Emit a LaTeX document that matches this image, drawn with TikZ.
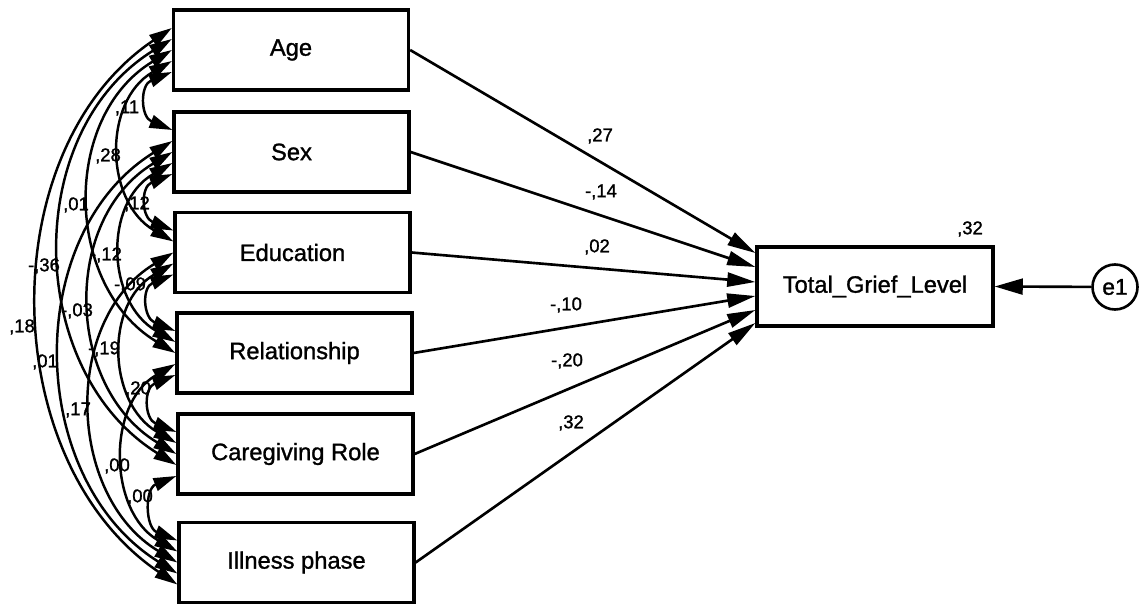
\documentclass[tikz,border=0pt]{standalone}
\usepackage{fontspec}
\setmainfont{Liberation Sans}[FakeBold=1.2]
\usetikzlibrary{arrows.meta,calc}
\begin{document}
\begin{tikzpicture}[x=0.02cm, y=-0.02cm,
  var/.style={draw, line width=1.9pt, minimum width=4.7cm, minimum height=1.6cm,
    inner sep=0pt, font=\fontsize{13.5}{16}\selectfont},
  coef/.style={font=\fontsize{10.5}{12}\selectfont, inner sep=0pt},
  regr/.style={line width=1.5pt, -{Triangle[length=16pt,width=8pt]}},
  cov/.style={line width=1.4pt,
    {Triangle[length=13pt,width=7.5pt]}-{Triangle[length=13pt,width=7.5pt]}},
]
\useasboundingbox[fill=white] (0,0) rectangle (1140,604);

% observed variables
\node[var] (age)  at (291,50)      {Age};
\node[var] (sex)  at (291.5,152)   {Sex};
\node[var] (edu)  at (292.5,252.5) {Education};
\node[var] (rel)  at (294.5,353)   {Relationship};
\node[var] (care) at (295.5,454)   {Caregiving Role};
\node[var] (ill)  at (296.5,562.5) {Illness phase};

% outcome and its error term
\node[var, minimum width=4.72cm, minimum height=1.58cm] (tgl) at (875,286.5) {Total\_Grief\_Level};
\node[draw, circle, line width=1.5pt, minimum size=0.9cm, inner sep=0pt,
      font=\fontsize{13}{15}\selectfont] (e1) at (1115,287) {e1};
\node[coef] (r2) at (970,229) {,32};
\draw[line width=1.5pt, -{Triangle[length=16pt,width=9pt]}] (e1) -- (tgl.east);

% regression paths
\draw[regr] (age.east)  -- ($(tgl.west)+(0,-33.5)$);
\draw[regr] (sex.east)  -- ($(tgl.west)+(0,-19.5)$);
\draw[regr] (edu.east)  -- ($(tgl.west)+(0,-4.5)$);
\draw[regr] (rel.east)  -- ($(tgl.west)+(0,9.5)$);
\draw[regr] (care.east) -- ($(tgl.west)+(0,23.5)$);
\draw[regr] (ill.east)  -- ($(tgl.west)+(0,36.5)$);

\node[coef] (b1) at (600,136) {,27};
\node[coef] (b2) at (601,192) {-,14};
\node[coef] (b3) at (597,247) {,02};
\node[coef] (b4) at (566,305) {-,10};
\node[coef] (b5) at (567,361) {-,20};
\node[coef] (b6) at (571,423) {,32};

% covariances between the predictors
\draw[cov] ($(age.west)+(0,22)$)  .. controls +(-32,13)   and +(-32,-13)   .. ($(sex.west)+(0,-22)$);
\draw[cov] ($(age.west)+(0,11)$)  .. controls +(-69,40)   and +(-69,-40)   .. ($(edu.west)+(0,-11)$);
\draw[cov] ($(age.west)+(0,0)$)   .. controls +(-111,67)  and +(-111,-67)  .. ($(rel.west)+(0,0)$);
\draw[cov] ($(age.west)+(0,-11)$) .. controls +(-151,94)  and +(-151,-94)  .. ($(care.west)+(0,11)$);
\draw[cov] ($(age.west)+(0,-22)$) .. controls +(-181,122) and +(-181,-122) .. ($(ill.west)+(0,22)$);
\draw[cov] ($(sex.west)+(0,22)$)  .. controls +(-32,13)   and +(-32,-13)   .. ($(edu.west)+(0,-22)$);
\draw[cov] ($(sex.west)+(0,11)$)  .. controls +(-69,40)   and +(-69,-40)   .. ($(rel.west)+(0,-11)$);
\draw[cov] ($(sex.west)+(0,0)$)   .. controls +(-111,67)  and +(-111,-67)  .. ($(care.west)+(0,0)$);
\draw[cov] ($(sex.west)+(0,-11)$) .. controls +(-151,94)  and +(-151,-94)  .. ($(ill.west)+(0,11)$);
\draw[cov] ($(edu.west)+(0,22)$)  .. controls +(-32,13)   and +(-32,-13)   .. ($(rel.west)+(0,-22)$);
\draw[cov] ($(edu.west)+(0,11)$)  .. controls +(-69,40)   and +(-69,-40)   .. ($(care.west)+(0,-11)$);
\draw[cov] ($(edu.west)+(0,0)$)   .. controls +(-111,67)  and +(-111,-67)  .. ($(ill.west)+(0,0)$);
\draw[cov] ($(rel.west)+(0,22)$)  .. controls +(-32,13)   and +(-32,-13)   .. ($(care.west)+(0,-22)$);
\draw[cov] ($(rel.west)+(0,11)$)  .. controls +(-69,40)   and +(-69,-40)   .. ($(ill.west)+(0,-11)$);
\draw[cov] ($(care.west)+(0,22)$) .. controls +(-32,13)   and +(-32,-13)   .. ($(ill.west)+(0,-22)$);

\node[coef] (c01) at (127,108) {,11};
\node[coef] (c02) at (108,156) {,28};
\node[coef] (c03) at (76,205)  {,01};
\node[coef] (c04) at (44,266)  {-,36};
\node[coef] (c05) at (22,327)  {,18};
\node[coef] (c12) at (137,204) {,12};
\node[coef] (c13) at (106,255) {-,12};
\node[coef] (c14) at (77,311)  {-,03};
\node[coef] (c15) at (45,362)  {,01};
\node[coef] (c23) at (130,285) {-,09};
\node[coef] (c24) at (104,349) {-,19};
\node[coef] (c25) at (78,410)  {,17};
\node[coef] (c34) at (138,389) {,20};
\node[coef] (c35) at (117,466) {,00};
\node[coef] (c45) at (140,497) {,00};
\end{tikzpicture}
\end{document}
